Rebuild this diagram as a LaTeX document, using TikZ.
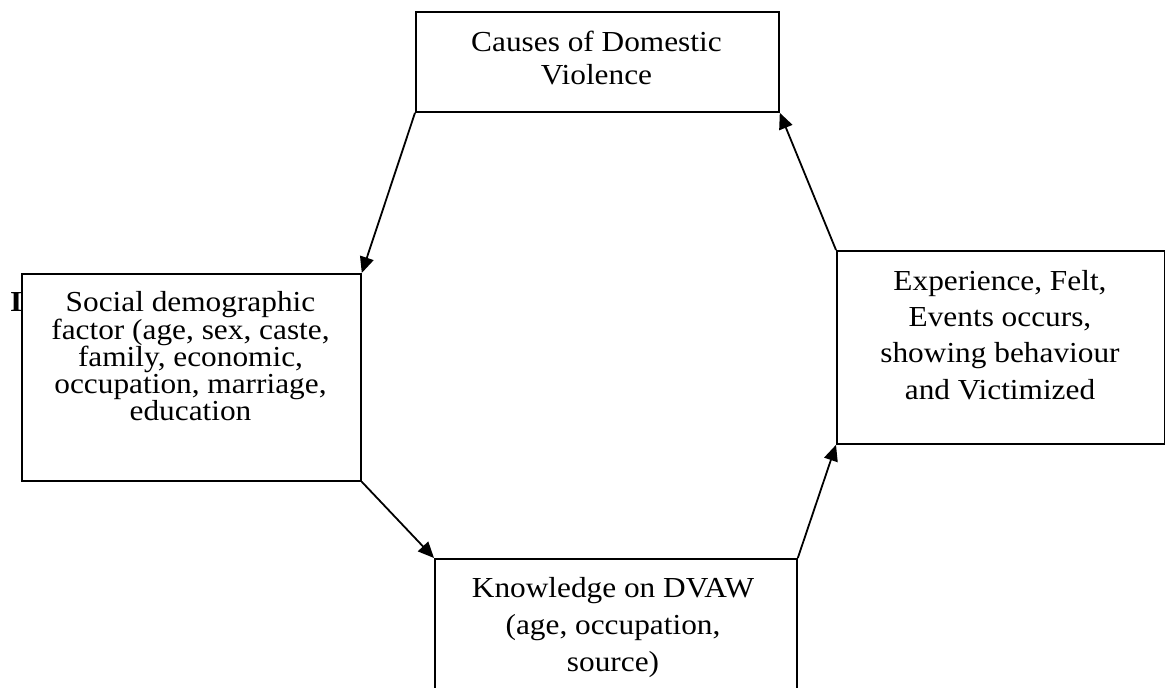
\documentclass[tikz,border=0pt]{standalone}
\usepackage{fontspec}
\setmainfont{Liberation Serif}[FakeStretch=1.08]
\usetikzlibrary{arrows.meta}
\begin{document}
\begin{tikzpicture}[x=1pt,y=-1pt,
  boxnode/.style={draw, line width=1.8pt, fill=white, inner sep=0pt, anchor=north west},
  txt/.style={align=center, inner sep=0pt, anchor=base},
  conn/.style={line width=1.8pt, -{Triangle[length=16pt,width=14pt]}}
]
\useasboundingbox (0,0) rectangle (1165,688);
% stray bold letter behind the left box
\node[inner sep=0pt, anchor=base west, font=\fontsize{29}{33}\selectfont\bfseries] (stray) at (10,311) {I};
% boxes
\node[boxnode, minimum width=363pt, minimum height=100pt] (cause) at (415,11) {};
\node[boxnode, minimum width=339pt, minimum height=207pt] (social) at (21,273) {};
\node[boxnode, minimum width=362pt, minimum height=150pt] (know) at (434,558) {};
\node[boxnode, minimum width=328pt, minimum height=193pt] (exper) at (836,250) {};
% texts (base = last line)
\node[txt, font=\fontsize{29}{33.5}\selectfont] (causetxt) at (596.5,84.5) {Causes of Domestic\\Violence};
\node[txt, font=\fontsize{29}{26.6}\selectfont] (socialtxt) at (190.5,420) {Social demographic\\factor (age, sex, caste,\\family, economic,\\occupation, marriage,\\education};
\node[txt, font=\fontsize{29}{37}\selectfont] (knowtxt) at (613,671) {Knowledge on DVAW\\(age, occupation,\\source)};
\node[txt, font=\fontsize{29}{36.3}\selectfont] (expertxt) at (1000,399) {Experience, Felt,\\Events occurs,\\showing behaviour\\and Victimized};
% connectors
\draw[conn] (cause.south west) -- (social.north east);
\draw[conn] (social.south east) -- (know.north west);
\draw[conn] (know.north east) -- (exper.south west);
\draw[conn] (exper.north west) -- (cause.south east);
\end{tikzpicture}
\end{document}
